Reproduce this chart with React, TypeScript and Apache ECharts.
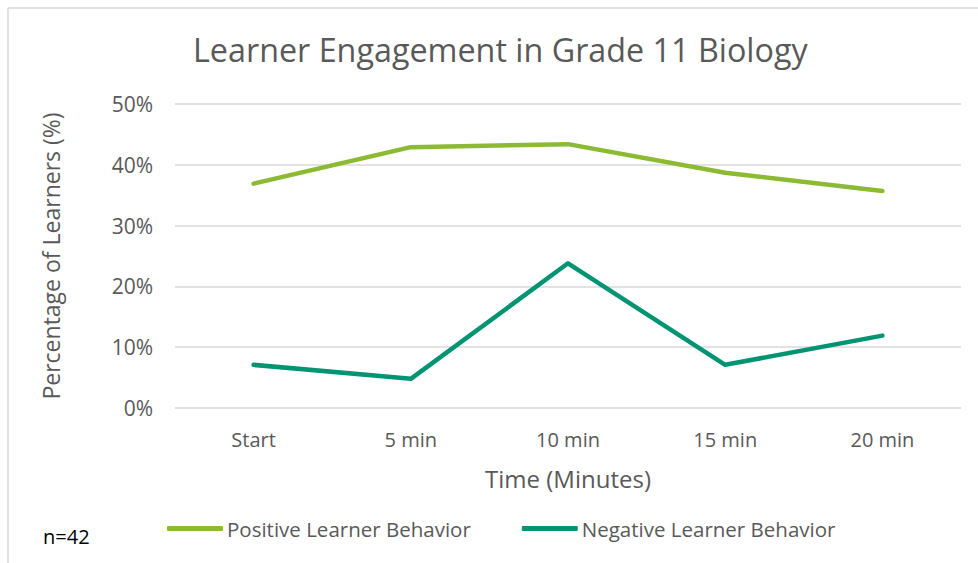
import React, { useEffect, useRef } from "react";
import * as echarts from "echarts";

const categories = ["Start", "5 min", "10 min", "15 min", "20 min"];
const positive = [36.9, 42.9, 43.4, 38.7, 35.7];
const negative = [7.1, 4.8, 23.8, 7.1, 11.9];
const yTicks = [0, 10, 20, 30, 40, 50];

const FONT = "Open Sans";

export default function App() {
  const ref = useRef<HTMLDivElement>(null);
  useEffect(() => {
    const chart = echarts.init(ref.current!, null, { renderer: "svg" });
    chart.setOption({
      animation: false,
      backgroundColor: "#ffffff",
      textStyle: { fontFamily: FONT },
      title: {
        text: "Learner Engagement in Grade 11 Biology",
        left: 188,
        top: 28,
        textStyle: { fontFamily: FONT, fontSize: 32.3, fontWeight: "normal", color: "#595959" },
      },
      graphic: [
        { type: "line", shape: { x1: 8, y1: 8, x2: 978, y2: 8 }, style: { stroke: "#d9d9d9", lineWidth: 1.5 } },
        { type: "line", shape: { x1: 8, y1: 8, x2: 8, y2: 563 }, style: { stroke: "#d9d9d9", lineWidth: 1.5 } },
        { type: "text", left: 43, top: 526, style: { text: "n=42", fontFamily: FONT, fontSize: 20, fill: "#000000" } },
      ],
      legend: {
        left: 167,
        top: 518,
        padding: 0,
        icon: "roundRect",
        itemWidth: 56,
        itemHeight: 5,
        itemGap: 51,
        textStyle: { fontFamily: FONT, fontSize: 20.5, color: "#595959", padding: [0, 0, 0, -1] },
        data: ["Positive Learner Behavior", "Negative Learner Behavior"],
      },
      grid: { left: 175, right: 17, top: 104, bottom: 155, containLabel: false },
      xAxis: {
        type: "category",
        data: categories,
        boundaryGap: true,
        name: "Time (Minutes)",
        nameLocation: "middle",
        nameGap: 58,
        nameTextStyle: { fontFamily: FONT, fontSize: 24, color: "#595959" },
        axisLine: { show: false },
        axisTick: { show: false },
        axisLabel: { fontFamily: FONT, fontSize: 20, color: "#595959", margin: 21 },
      },
      yAxis: {
        type: "value",
        min: 0,
        max: 50,
        interval: 10,
        name: "Percentage of Learners (%)",
        nameLocation: "middle",
        nameGap: 113,
        nameTextStyle: { fontFamily: FONT, fontSize: 23, color: "#595959" },
        axisLine: { show: false },
        axisTick: { show: false },
        splitLine: { lineStyle: { color: "#d9d9d9", width: 1.5 } },
        axisLabel: {
          fontFamily: FONT,
          fontSize: 21,
          color: "#595959",
          margin: 22,
          formatter: (v: number) => (yTicks.includes(v) ? v + "%" : ""),
        },
      },
      series: [
        {
          name: "Positive Learner Behavior",
          type: "line",
          data: positive,
          symbol: "none",
          color: "#8cba33",
          lineStyle: { width: 4.5, cap: "round", join: "round" },
        },
        {
          name: "Negative Learner Behavior",
          type: "line",
          data: negative,
          symbol: "none",
          color: "#009473",
          lineStyle: { width: 4.5, cap: "round", join: "round" },
        },
      ],
    });
    return () => chart.dispose();
  }, []);
  return <div ref={ref} style={{ width: 978, height: 563, position: "absolute", left: 0, top: 0 }} />;
}
